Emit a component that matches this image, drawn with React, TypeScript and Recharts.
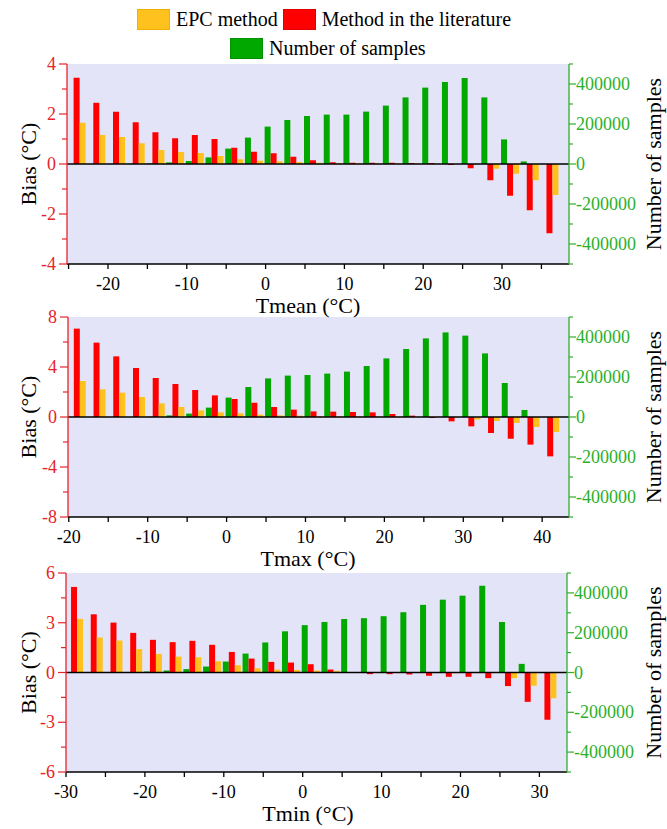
import React from "react";
import { ComposedChart, Bar, XAxis, YAxis, CartesianGrid, ReferenceLine } from "recharts";

// group centres (°C) for each panel, 2.5 °C bins
const tmeanX = [-24, -21.5, -19, -16.5, -14, -11.5, -9, -6.5, -4, -1.5, 1, 3.5, 6, 8.5, 11, 13.5, 16, 18.5, 21, 23.5, 26, 28.5, 31, 33.5, 36];
const tmeanEpc = [1.65, 1.16, 1.08, 0.83, 0.56, 0.48, 0.44, 0.32, 0.19, 0.13, 0.11, 0.08, 0.05, 0.03, 0.02, 0.02, 0.02, 0.02, 0.01, 0, -0.02, -0.19, -0.39, -0.65, -1.24];
const tmeanLit = [3.45, 2.45, 2.09, 1.67, 1.27, 1.03, 1.16, 1.0, 0.65, 0.49, 0.43, 0.29, 0.15, 0.07, 0.05, 0.05, 0.05, 0.04, 0.04, -0.04, -0.17, -0.65, -1.27, -1.85, -2.77];
const tmeanSamples = [0, 0, 500, 1500, 3000, 8000, 15000, 33000, 77000, 132000, 187000, 220000, 240000, 247000, 247000, 262000, 292000, 333000, 382000, 410000, 430000, 333000, 123000, 13000, 500];

const tmaxX = [-19, -16.5, -14, -11.5, -9, -6.5, -4, -1.5, 1, 3.5, 6, 8.5, 11, 13.5, 16, 18.5, 21, 23.5, 26, 28.5, 31, 33.5, 36, 38.5, 41];
const tmaxEpc = [2.88, 2.21, 1.95, 1.6, 1.09, 0.8, 0.53, 0.37, 0.29, 0.19, 0.13, 0.11, 0.08, 0.06, 0.05, 0.04, 0.03, 0.02, 0.01, -0.02, -0.21, -0.32, -0.48, -0.8, -1.2];
const tmaxLit = [7.07, 5.95, 4.85, 3.92, 3.12, 2.64, 2.16, 1.73, 1.44, 1.15, 0.8, 0.59, 0.45, 0.43, 0.4, 0.37, 0.24, 0.11, -0.08, -0.35, -0.75, -1.28, -1.73, -2.21, -3.15];
const tmaxSamples = [0, 0, 0, 0, 1700, 8000, 17000, 47000, 97000, 150000, 193000, 207000, 210000, 217000, 227000, 255000, 293000, 340000, 393000, 423000, 407000, 318000, 170000, 35000, 0];

const tminX = [-29, -26.5, -24, -21.5, -19, -16.5, -14, -11.5, -9, -6.5, -4, -1.5, 1, 3.5, 6, 8.5, 11, 13.5, 16, 18.5, 21, 23.5, 26, 28.5, 31];
const tminEpc = [3.23, 2.11, 1.93, 1.41, 1.12, 0.96, 0.92, 0.68, 0.44, 0.26, 0.18, 0.16, 0.12, 0.1, 0.02, 0, -0.02, -0.03, -0.04, -0.05, -0.04, -0.04, -0.34, -0.8, -1.55];
const tminLit = [5.16, 3.51, 3.01, 2.39, 1.97, 1.83, 1.91, 1.67, 1.24, 0.84, 0.64, 0.6, 0.5, 0.18, -0.03, -0.1, -0.1, -0.12, -0.2, -0.26, -0.26, -0.34, -0.82, -1.77, -2.85];
const tminSamples = [0, 0, 0, 1700, 5000, 10000, 17000, 30000, 55000, 95000, 151000, 207000, 238000, 254000, 269000, 273000, 283000, 303000, 340000, 366000, 386000, 436000, 254000, 43500, 0];

const tmeanTicks = [-25, -20, -15, -10, -5, 0, 5, 10, 15, 20, 25, 30, 35];
const tmaxTicks = [-20, -15, -10, -5, 0, 5, 10, 15, 20, 25, 30, 35, 40];
const tminTicks = [-30, -25, -20, -15, -10, -5, 0, 5, 10, 15, 20, 25, 30];

const bias1Ticks = [-4, -3, -2, -1, 0, 1, 2, 3, 4];
const bias2Ticks = [-8, -6, -4, -2, 0, 2, 4, 6, 8];
const bias3Ticks = [-6, -4.5, -3, -1.5, 0, 1.5, 3, 4.5, 6];
const sampleTicks = [-500000, -400000, -300000, -200000, -100000, 0, 100000, 200000, 300000, 400000, 500000];
const sampleLabels = [-400000, -200000, 0, 200000, 400000];

const EPC = "#FFC11E";
const LIT = "#FF0000";
const NS = "#00A800";
const BG = "#E4E4F8";
const LEFT_C = "#E8232A";
const RIGHT_C = "#2CB02C";
const FONT = "'Liberation Serif', 'Times New Roman', serif";

const rows = (xs: number[], epc: number[], lit: number[], ns: number[]) =>
  xs.map((x, i) => ({ x, epc: epc[i], lit: lit[i], ns: ns[i] }));

interface PanelProps {
  data: { x: number; epc: number; lit: number; ns: number }[];
  top: number;
  bottom: number;
  left: number;
  right: number;
  xDomain: [number, number];
  xTicks: number[];
  biasTicks: number[];
  biasStep: number;
}

const Panel = ({ data, top, bottom, left, right, xDomain, xTicks, biasTicks, biasStep }: PanelProps) => {
  const lim = biasTicks[biasTicks.length - 1];
  // plot bottom in the chart's own coordinates
  const base = 10 + bottom - top;
  const xTick = (p: any) => {
    const v = p.payload.value;
    const major = v % 10 === 0;
    return (
      <g>
        <line x1={p.x} x2={p.x} y1={base} y2={base + 5} stroke="#000" strokeWidth={1.3} />
        {major && (
          <text x={p.x} y={base + 26} textAnchor="middle" fontSize={18} fontFamily={FONT} fill="#000">
            {String(v)}
          </text>
        )}
      </g>
    );
  };
  const leftTick = (p: any) => {
    const v = p.payload.value;
    const major = Math.abs(v / biasStep - Math.round(v / biasStep)) < 1e-6;
    return (
      <g>
        <line x1={left - (major ? 8 : 5)} x2={left} y1={p.y} y2={p.y} stroke={LEFT_C} strokeWidth={1.2} />
        {major && (
          <text x={left - 11} y={p.y + 6} textAnchor="end" fontSize={18} fontFamily={FONT} fill={LEFT_C}>
            {String(v)}
          </text>
        )}
      </g>
    );
  };
  const rightTick = (p: any) => {
    const v = p.payload.value;
    const major = sampleLabels.includes(v);
    return (
      <g>
        <line x1={right} x2={right + (major ? 7 : 4)} y1={p.y} y2={p.y} stroke={RIGHT_C} strokeWidth={1.2} />
        {major && (
          <text x={right + 7} y={p.y + 6} textAnchor="start" fontSize={18} fontFamily={FONT} fill={RIGHT_C}>
            {String(v)}
          </text>
        )}
      </g>
    );
  };
  return (
    <div style={{ position: "absolute", left: 0, top: top - 10 }}>
      <ComposedChart
        width={667}
        height={10 + (bottom - top) + 40}
        data={data}
        margin={{ top: 10, right: 0, bottom: 0, left: 0 }}
        barGap={0}
        barSize={6}
      >
        <CartesianGrid horizontal={false} vertical={false} fill={BG} stroke="none" />
        <XAxis
          dataKey="x"
          type="number"
          domain={xDomain}
          ticks={xTicks}
          allowDataOverflow
          height={40}
          axisLine={{ stroke: "#000", strokeWidth: 1.5 }}
          tickLine={false}
          tick={xTick}
          interval={0}
        />
        <YAxis
          yAxisId="bias"
          domain={[-lim, lim]}
          ticks={biasTicks}
          allowDataOverflow
          width={left}
          axisLine={{ stroke: LEFT_C, strokeWidth: 1.3 }}
          tickLine={false}
          tick={leftTick}
          interval={0}
        />
        <YAxis
          yAxisId="ns"
          orientation="right"
          domain={[-500000, 500000]}
          ticks={sampleTicks}
          allowDataOverflow
          width={667 - right}
          axisLine={{ stroke: RIGHT_C, strokeWidth: 1.3 }}
          tickLine={false}
          tick={rightTick}
          interval={0}
        />
        <Bar dataKey="ns" yAxisId="ns" fill={NS} isAnimationActive={false} />
        <Bar dataKey="lit" yAxisId="bias" fill={LIT} isAnimationActive={false} />
        <Bar dataKey="epc" yAxisId="bias" fill={EPC} isAnimationActive={false} />
        <ReferenceLine y={0} yAxisId="bias" stroke="#000" strokeWidth={1.5} />
      </ComposedChart>
    </div>
  );
};

const Swatch = ({ color, border }: { color: string; border: string }) => (
  <span
    style={{
      display: "inline-block",
      width: 31,
      height: 19,
      background: color,
      border: `1px solid ${border}`,
      marginRight: 6,
      verticalAlign: "middle",
    }}
  />
);

const panels = [
  { top: 64, bottom: 264, left: 67, right: 569, xDomain: [-25.2, 38.5] as [number, number], xTicks: tmeanTicks, biasTicks: bias1Ticks, biasStep: 2, title: "Tmean (°C)", data: rows(tmeanX, tmeanEpc, tmeanLit, tmeanSamples) },
  { top: 317, bottom: 517, left: 68, right: 569, xDomain: [-20.1, 43.4] as [number, number], xTicks: tmaxTicks, biasTicks: bias2Ticks, biasStep: 4, title: "Tmax (°C)", data: rows(tmaxX, tmaxEpc, tmaxLit, tmaxSamples) },
  { top: 573, bottom: 772, left: 66, right: 567, xDomain: [-30, 33.5] as [number, number], xTicks: tminTicks, biasTicks: bias3Ticks, biasStep: 3, title: "Tmin (°C)", data: rows(tminX, tminEpc, tminLit, tminSamples) },
];

export default function App() {
  return (
    <div style={{ position: "absolute", left: 0, top: 0, width: 667, height: 829, background: "#fff", fontFamily: FONT }}>
      <div style={{ position: "absolute", left: 137, top: 6, fontSize: 20, lineHeight: "22px", whiteSpace: "nowrap" }}>
        <Swatch color={EPC} border="#F0B000" />
        <span style={{ verticalAlign: "middle", marginRight: 5 }}>EPC method</span>
        <Swatch color={LIT} border="#E00000" />
        <span style={{ verticalAlign: "middle" }}>Method in the literature</span>
      </div>
      <div style={{ position: "absolute", left: 230, top: 35, fontSize: 20, lineHeight: "22px", whiteSpace: "nowrap" }}>
        <Swatch color={NS} border="#009000" />
        <span style={{ verticalAlign: "middle" }}>Number of samples</span>
      </div>
      {panels.map((p) => (
        <Panel key={p.title} {...p} />
      ))}
      <svg width={667} height={829} style={{ position: "absolute", left: 0, top: 0, pointerEvents: "none" }}>
        {panels.map((p) => {
          const cy = (p.top + p.bottom) / 2;
          return (
            <g key={p.title} fontFamily={FONT} fontSize={22} fill="#000">
              <text x={28} y={cy} textAnchor="middle" dominantBaseline="central" transform={`rotate(-90 28 ${cy})`}>
                Bias (°C)
              </text>
              <text x={653} y={cy} textAnchor="middle" dominantBaseline="central" transform={`rotate(-90 653 ${cy})`}>
                Number of samples
              </text>
              <text x={308} y={p.bottom + 49} textAnchor="middle">
                {p.title}
              </text>
            </g>
          );
        })}
      </svg>
    </div>
  );
}
